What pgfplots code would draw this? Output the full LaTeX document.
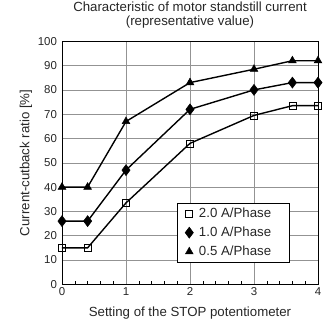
\documentclass[border=0pt]{standalone}
\usepackage{fontspec}
\setmainfont{Liberation Sans}
\usepackage{pgfplots}
\pgfplotsset{compat=1.18}
\begin{document}
\begin{tikzpicture}
\useasboundingbox (-62bp,-37.7bp) rectangle (262bp,284.3bp);
\begin{axis}[
  at={(0,0)}, anchor=south west,
  scale only axis,
  width=256bp, height=243bp,
  xmin=0, xmax=4, ymin=0, ymax=100,
  xtick={0,1,2,3,4},
  ytick={0,10,...,100},
  minor x tick num=4,
  tick align=inside,
  xtick pos=bottom, ytick pos=left,
  major tick length=0pt,
  minor tick length=3.5bp,
  grid=major,
  major grid style={gray!85, line width=0.6pt},
  axis line style={black, line width=0.8pt},
  every tick/.style={black, line width=0.6pt},
  tick label style={font=\fontsize{11.5}{12}\selectfont, text=black!85},
  yticklabel style={xshift=-1.5bp},
  /pgf/number format/assume math mode=true,
  title={Characteristic of motor standstill current\\(representative value)},
  title style={at={(axis description cs:0.5,1)}, anchor=center, yshift=20bp,
    align=center, font=\fontsize{13.3}{14.5}\selectfont, text=black!85},
  xlabel={Setting of the STOP potentiometer},
  ylabel={Current-cutback ratio [\%]},
  xlabel style={at={(axis description cs:0.5,0)}, anchor=center, yshift=-29bp,
    font=\fontsize{13.3}{14}\selectfont, text=black!85},
  ylabel style={at={(axis description cs:-0.141,0.5)}, anchor=center,
    font=\fontsize{13.3}{14}\selectfont, text=black!85},
  legend style={at={(axis description cs:0.450,0.089)}, anchor=south west, draw=black, line width=0.8pt,
    font=\fontsize{13.3}{14}\selectfont, row sep=4bp, inner xsep=2bp, inner ysep=3bp, text=black!85},
  legend cell align=left,
  legend image code/.code={\path (0bp,0bp) (16bp,0bp); \draw[#1, only marks] plot coordinates {(9bp,0bp)};},
  every axis plot/.append style={line width=1.4pt, black},
]
\addplot[mark=square, mark size=3.5bp, mark options={fill=white, line width=0.7pt}]
  coordinates {(0,15) (0.4,15) (1,33.5) (2,58) (3,69.5) (3.6,73.5) (4,73.5)};
\addplot[mark=diamond*, mark size=5.5bp, mark options={fill=black, line width=0.5pt}]
  coordinates {(0,26) (0.4,26) (1,47) (2,72) (3,80) (3.6,83) (4,83)};
\addplot[mark=triangle*, mark size=4.5bp, mark options={fill=black, line width=0.5pt}]
  coordinates {(0,40) (0.4,40) (1,67) (2,83) (3,88.5) (3.6,92) (4,92)};
\legend{\makebox[86bp][l]{2.0 A/Phase}, \makebox[86bp][l]{1.0 A/Phase}, \makebox[86bp][l]{0.5 A/Phase}}
\end{axis}
\end{tikzpicture}
\end{document}
